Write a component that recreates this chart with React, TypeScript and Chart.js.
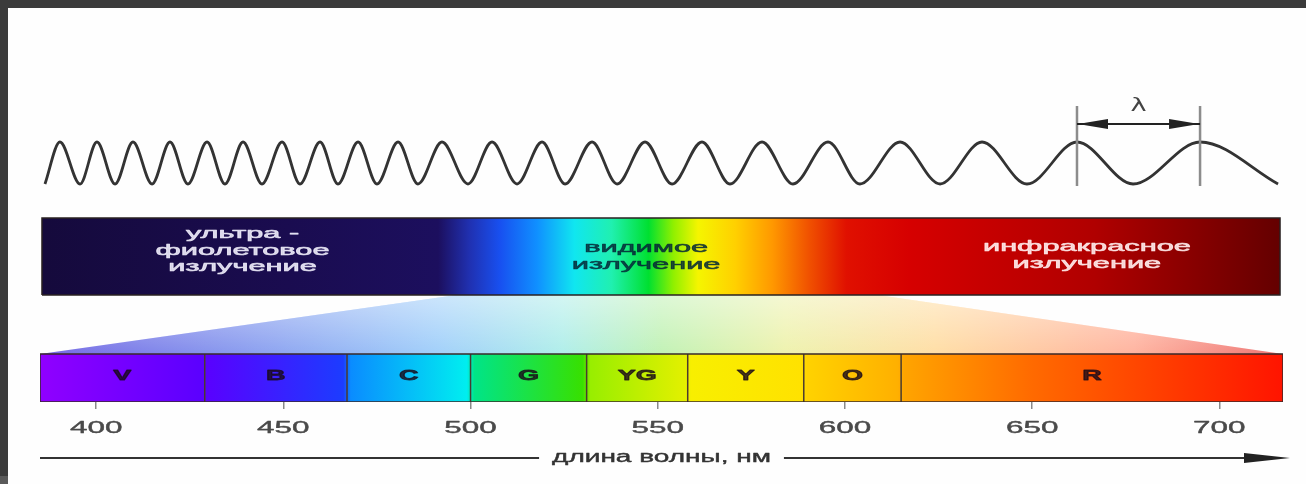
import React, { useEffect, useRef } from "react";
import { Chart, registerables } from "chart.js";

Chart.register(...registerables);

// ---------------- data ----------------
const tickValues = [400, 450, 500, 550, 600, 650, 700];
const segmentLabels = ["V", "B", "C", "G", "YG", "Y", "O", "R"];
const segmentBounds = [385, 429, 467, 500, 531, 558, 589, 615, 717]; // nm
const bandTitles = [
  ["ультра -", "фиолетовое", "излучение"],
  ["видимое", "излучение"],
  ["инфракрасное", "излучение"],
];
const bandTitleCenters = [16.2, 48.8, 84.4]; // % of band width
const visibleWindow = [33.5, 67.5]; // % of band width
const wavePeaks = [
  1.45, 4.44, 7.35, 10.34, 13.33, 16.24, 19.39, 22.46, 25.53, 28.76, 32.31,
  36.35, 40.39, 44.43, 48.71, 53.31, 58.16, 63.49, 69.31, 75.93, 83.6, 93.54,
];
const waveTroughs = [
  3.07, 5.9, 8.89, 11.79, 14.78, 17.77, 20.84, 23.91, 27.06, 30.37, 34.41,
  38.37, 42.25, 46.45, 50.89, 55.57, 60.66, 66.07, 72.54, 79.56, 88.13,
];
const waveEnds = [0.24, 99.84];
const lambdaPeaks = [wavePeaks[20], wavePeaks[21]];
const lambdaLabel = "λ";
const axisTitle = "длина волны, нм";

// ---------------- layout / style ----------------
const W = 1306;
const H = 484;
const NM_MIN = segmentBounds[0];
const NM_MAX = segmentBounds[segmentBounds.length - 1];
const BAND_AXIS = { min: -0.16, max: 100.24 };
const LAYOUT_AXIS = { min: 0, max: 302 };
const WAVE_AXIS = { min: -11.381, max: 3.0 };
const BAR_Y = [0, 48];
const BAND_Y = [107, 184];
const LAMBDA_LINE_Y = [216, 296];
const LAMBDA_ARROW_Y = 278;

const BAND_STOPS: [number, string][] = [
  [0, "#150a3c"],
  [20, "#1a0c50"],
  [32, "#1c0f5e"],
  [34.5, "#2030b0"],
  [37, "#1850f0"],
  [40, "#1090ff"],
  [43, "#10e6f0"],
  [46, "#20f0b0"],
  [49, "#00e030"],
  [51, "#90f000"],
  [53, "#f5f500"],
  [56, "#ffd000"],
  [59, "#ff9800"],
  [62, "#f05000"],
  [65, "#e01000"],
  [70, "#d60000"],
  [85, "#b00000"],
  [100, "#640000"],
];
const BAR_STOPS: [number, string][] = [
  [385, "#9000ff"],
  [429, "#5a00ff"],
  [466, "#1c3cff"],
  [468, "#0a8cff"],
  [499, "#00eef0"],
  [501, "#00e488"],
  [530, "#38e000"],
  [532, "#98ee00"],
  [557, "#e2f000"],
  [559, "#f8ef00"],
  [588, "#ffe200"],
  [590, "#ffd200"],
  [614, "#ffb000"],
  [616, "#ffa400"],
  [650, "#ff6a00"],
  [717, "#ff1400"],
];
const FAN_STOPS: [number, string][] = [
  [0, "#7468e4"],
  [0.15, "#8898ee"],
  [0.32, "#a2d0fa"],
  [0.42, "#b0eeea"],
  [0.5, "#c2f2b6"],
  [0.6, "#eef2ae"],
  [0.72, "#ffdea6"],
  [0.88, "#ffb4a0"],
  [1, "#ee7474"],
];

const FONT = "'Liberation Sans', Arial, sans-serif";

function hGrad(chart: any, scaleId: string, v0: number, v1: number, stops: [number, string][], relative: boolean) {
  const s = chart.scales[scaleId];
  const p0 = s.getPixelForValue(v0);
  const p1 = s.getPixelForValue(v1);
  const g = chart.ctx.createLinearGradient(p0, 0, p1, 0);
  stops.forEach(([o, c]) => {
    const f = relative ? o : (o - v0) / (v1 - v0);
    g.addColorStop(Math.min(1, Math.max(0, f)), c);
  });
  return g;
}

function rect(x0: number, x1: number, y0: number, y1: number) {
  return [
    { x: x0, y: y0 },
    { x: x0, y: y1 },
    { x: x1, y: y1 },
    { x: x1, y: y0 },
  ];
}
function loop(x0: number, x1: number, y0: number, y1: number) {
  return [...rect(x0, x1, y0, y1), { x: x0, y: y0 }];
}

function stretchText(
  ctx: CanvasRenderingContext2D,
  text: string,
  x: number,
  y: number,
  font: string,
  color: string,
  sx: number,
  weight = 0
) {
  ctx.save();
  ctx.translate(x, y);
  ctx.scale(sx, 1);
  ctx.font = font;
  ctx.fillStyle = color;
  ctx.textAlign = "center";
  ctx.textBaseline = "middle";
  ctx.fillText(text, 0, 0);
  if (weight > 0) {
    ctx.strokeStyle = color;
    ctx.lineWidth = weight;
    ctx.lineJoin = "round";
    ctx.strokeText(text, 0, 0);
  }
  ctx.restore();
}

const overlayPlugin = {
  id: "overlay",
  afterDatasetsDraw(chart: any) {
    const { ctx, chartArea, scales } = chart;
    const xt = scales.xt;
    const x = scales.x;
    const y = scales.y;

    // band titles
    const bandMid = y.getPixelForValue((BAND_Y[0] + BAND_Y[1]) / 2);
    const colors = ["rgba(236,234,248,0.9)", "rgba(5,40,55,0.82)", "rgba(255,234,234,0.9)"];
    const offsets = [-6, 0, -1];
    bandTitles.forEach((lines, i) => {
      const cx = xt.getPixelForValue(bandTitleCenters[i]);
      const lh = 16.5;
      const top = bandMid + offsets[i] - ((lines.length - 1) * lh) / 2;
      lines.forEach((t, j) => {
        stretchText(ctx, t, cx, top + j * lh, `15px ${FONT}`, colors[i], 2.05, 0.6);
      });
    });

    // lambda arrow heads and symbol
    const ay = y.getPixelForValue(LAMBDA_ARROW_Y);
    const l0 = xt.getPixelForValue(lambdaPeaks[0]);
    const l1 = xt.getPixelForValue(lambdaPeaks[1]);
    ctx.save();
    ctx.fillStyle = "#222";
    ctx.beginPath();
    ctx.moveTo(l0 + 1, ay);
    ctx.lineTo(l0 + 31, ay - 5);
    ctx.lineTo(l0 + 31, ay + 5);
    ctx.closePath();
    ctx.fill();
    ctx.beginPath();
    ctx.moveTo(l1 - 1, ay);
    ctx.lineTo(l1 - 31, ay - 5);
    ctx.lineTo(l1 - 31, ay + 5);
    ctx.closePath();
    ctx.fill();
    ctx.restore();
    stretchText(ctx, lambdaLabel, (l0 + l1) / 2, y.getPixelForValue(LAMBDA_LINE_Y[1]) + 1, `17px 'DejaVu Sans', sans-serif`, "#444", 1.6);

    // segment letters
    const barMid = y.getPixelForValue((BAR_Y[0] + BAR_Y[1]) / 2) - 2;
    segmentLabels.forEach((lab, i) => {
      const cx = x.getPixelForValue((segmentBounds[i] + segmentBounds[i + 1]) / 2);
      stretchText(ctx, lab, cx, barMid, `bold 15px ${FONT}`, "rgba(25,10,25,0.8)", 1.8, 0.8);
    });

    // tick labels
    x.ticks.forEach((t: any) => {
      const px = x.getPixelForValue(t.value);
      stretchText(ctx, String(t.label ?? t.value), px, chartArea.bottom + 26, `17px ${FONT}`, "#4a4a4a", 1.85, 0.4);
    });

    // axis arrow with title
    const ly = chartArea.bottom + 56;
    const cx = (chartArea.left + chartArea.right) / 2;
    ctx.save();
    ctx.font = `16px ${FONT}`;
    const tw = ctx.measureText(axisTitle).width * 1.75;
    ctx.restore();
    const gap0 = cx - tw / 2 - 13;
    const gap1 = cx + tw / 2 + 13;
    const tip = chartArea.right + 7;
    ctx.save();
    ctx.strokeStyle = "#333";
    ctx.lineWidth = 2;
    ctx.beginPath();
    ctx.moveTo(chartArea.left, ly);
    ctx.lineTo(gap0, ly);
    ctx.moveTo(gap1, ly);
    ctx.lineTo(tip - 30, ly);
    ctx.stroke();
    ctx.fillStyle = "#222";
    ctx.beginPath();
    ctx.moveTo(tip, ly);
    ctx.lineTo(tip - 46, ly - 5);
    ctx.lineTo(tip - 46, ly + 5);
    ctx.closePath();
    ctx.fill();
    ctx.restore();
    stretchText(ctx, axisTitle, cx, ly, `16px ${FONT}`, "#333", 1.75, 0.4);
  },
};

export default function App() {
  const ref = useRef<HTMLCanvasElement>(null);

  useEffect(() => {
    const wavePoints = [
      ...wavePeaks.map((v) => ({ x: v, y: 1 })),
      ...waveTroughs.map((v) => ({ x: v, y: -1 })),
      ...waveEnds.map((v) => ({ x: v, y: -1 })),
    ].sort((a, b) => a.x - b.x);

    const dividerPoints: any[] = [];
    segmentBounds.slice(1, -1).forEach((b) => {
      dividerPoints.push({ x: b, y: BAR_Y[0] }, { x: b, y: BAR_Y[1] }, { x: b, y: null });
    });

    const lambdaPoints = [
      { x: lambdaPeaks[0], y: LAMBDA_LINE_Y[0] },
      { x: lambdaPeaks[0], y: LAMBDA_LINE_Y[1] },
      { x: lambdaPeaks[0], y: null },
      { x: lambdaPeaks[1], y: LAMBDA_LINE_Y[0] },
      { x: lambdaPeaks[1], y: LAMBDA_LINE_Y[1] },
    ];

    const fanShape = [
      { x: BAND_AXIS.min, y: BAR_Y[1] },
      { x: visibleWindow[0], y: BAND_Y[0] },
      { x: visibleWindow[1], y: BAND_Y[0] },
      { x: BAND_AXIS.max, y: BAR_Y[1] },
    ];

    const base = { pointRadius: 0, pointHoverRadius: 0, tension: 0, spanGaps: false };

    const chart = new Chart(ref.current as HTMLCanvasElement, {
      type: "line",
      data: {
        datasets: [
          {
            ...base,
            label: "fan",
            order: 20,
            xAxisID: "xt",
            yAxisID: "y",
            data: fanShape,
            fill: "shape",
            borderWidth: 0,
            borderColor: "transparent",
            backgroundColor: (c: any) =>
              c.chart.chartArea ? hGrad(c.chart, "xt", BAND_AXIS.min, BAND_AXIS.max, FAN_STOPS, true) : "#ccc",
          },
          {
            ...base,
            label: "fanShade",
            order: 19,
            xAxisID: "xt",
            yAxisID: "y",
            data: fanShape.map((p) => ({ ...p })),
            fill: "shape",
            borderWidth: 0,
            borderColor: "transparent",
            backgroundColor: (c: any) => {
              const ch = c.chart;
              if (!ch.chartArea) return "rgba(255,255,255,0)";
              const y = ch.scales.y;
              const g = ch.ctx.createLinearGradient(0, y.getPixelForValue(BAND_Y[0]), 0, y.getPixelForValue(BAR_Y[1]));
              g.addColorStop(0, "rgba(255,255,255,0.45)");
              g.addColorStop(1, "rgba(255,255,255,0)");
              return g;
            },
          },
          {
            ...base,
            label: "band",
            order: 18,
            xAxisID: "xt",
            yAxisID: "y",
            data: rect(0, 100, BAND_Y[0], BAND_Y[1]),
            fill: "shape",
            borderWidth: 0,
            borderColor: "transparent",
            backgroundColor: (c: any) =>
              c.chart.chartArea ? hGrad(c.chart, "xt", 0, 100, BAND_STOPS, false) : "#000",
          },
          {
            ...base,
            label: "bandOutline",
            order: 17,
            xAxisID: "xt",
            yAxisID: "y",
            data: loop(0, 100, BAND_Y[0], BAND_Y[1]),
            fill: false,
            borderWidth: 1.5,
            borderColor: "#2a2222",
          },
          {
            ...base,
            label: "bar",
            order: 16,
            xAxisID: "x",
            yAxisID: "y",
            data: rect(NM_MIN, NM_MAX, BAR_Y[0], BAR_Y[1]),
            fill: "shape",
            borderWidth: 0,
            borderColor: "transparent",
            backgroundColor: (c: any) =>
              c.chart.chartArea ? hGrad(c.chart, "x", NM_MIN, NM_MAX, BAR_STOPS, false) : "#000",
          },
          {
            ...base,
            label: "dividers",
            order: 15,
            xAxisID: "x",
            yAxisID: "y",
            data: dividerPoints,
            fill: false,
            borderWidth: 1.5,
            borderColor: "#4a3a30",
          },
          {
            ...base,
            label: "barOutline",
            order: 14,
            xAxisID: "x",
            yAxisID: "y",
            data: loop(NM_MIN, NM_MAX, BAR_Y[0], BAR_Y[1]),
            fill: false,
            borderWidth: 1.5,
            borderColor: "#3a2a2a",
          },
          {
            ...base,
            label: "wave",
            order: 13,
            xAxisID: "xt",
            yAxisID: "yw",
            data: wavePoints,
            fill: false,
            cubicInterpolationMode: "monotone",
            borderWidth: 2.8,
            borderColor: "#333333",
          },
          {
            ...base,
            label: "lambdaLines",
            order: 12,
            xAxisID: "xt",
            yAxisID: "y",
            data: lambdaPoints,
            fill: false,
            borderWidth: 2.5,
            borderColor: "#8c8c8c",
          },
          {
            ...base,
            label: "lambdaArrow",
            order: 11,
            xAxisID: "xt",
            yAxisID: "y",
            data: [
              { x: lambdaPeaks[0], y: LAMBDA_ARROW_Y },
              { x: lambdaPeaks[1], y: LAMBDA_ARROW_Y },
            ],
            fill: false,
            borderWidth: 2,
            borderColor: "#222",
          },
        ] as any,
      },
      options: {
        animation: false,
        responsive: false,
        maintainAspectRatio: false,
        devicePixelRatio: 1,
        events: [],
        layout: { padding: { left: 40, right: 23, top: 100, bottom: 75 } },
        plugins: {
          legend: { display: false },
          tooltip: { enabled: false },
          title: { display: false },
        },
        scales: {
          x: {
            type: "linear",
            axis: "x",
            position: "bottom",
            min: NM_MIN,
            max: NM_MAX,
            afterBuildTicks: (s: any) => {
              s.ticks = tickValues.map((v) => ({ value: v }));
            },
            ticks: { display: false },
            grid: {
              display: true,
              drawOnChartArea: false,
              drawTicks: true,
              tickLength: 7,
              color: "#8a8a8a",
              lineWidth: 1.5,
            },
            border: { display: false },
          },
          xt: {
            type: "linear",
            axis: "x",
            display: false,
            min: BAND_AXIS.min,
            max: BAND_AXIS.max,
          },
          y: {
            type: "linear",
            axis: "y",
            display: false,
            min: LAYOUT_AXIS.min,
            max: LAYOUT_AXIS.max,
          },
          yw: {
            type: "linear",
            axis: "y",
            display: false,
            min: WAVE_AXIS.min,
            max: WAVE_AXIS.max,
          },
        },
      } as any,
      plugins: [overlayPlugin],
    });
    return () => chart.destroy();
  }, []);

  return (
    <div
      style={{
        position: "fixed",
        left: 0,
        top: 0,
        width: W,
        height: H,
        background: "#3b3b3b",
        overflow: "hidden",
      }}
    >
      <div style={{ position: "absolute", left: 8, top: 8, right: 0, bottom: 0, background: "#fefefe" }} />
      <div style={{ position: "absolute", left: 0, top: 476, width: 8, height: 8, background: "#5a5a5a" }} />
      <canvas
        ref={ref}
        width={W}
        height={H}
        style={{ position: "absolute", left: 0, top: 0, width: W, height: H }}
      />
    </div>
  );
}
